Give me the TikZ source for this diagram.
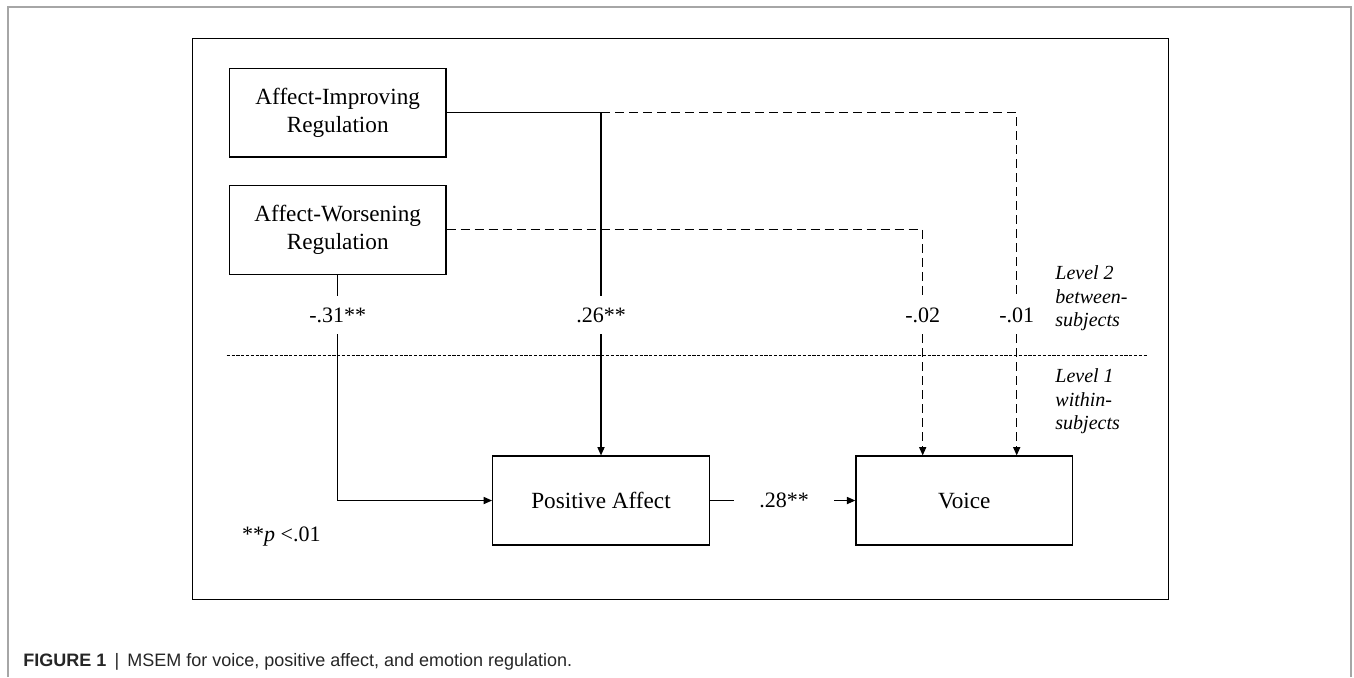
\documentclass[tikz,border=0pt]{standalone}
\usepackage{fontspec}
\setmainfont{Liberation Serif}
\setsansfont{Liberation Sans}
\usetikzlibrary{arrows.meta}
\tikzstyle{block}=[draw,line width=0.7pt,minimum width=108.3pt,minimum height=44.4pt,inner sep=0pt,align=center,font=\fontsize{11.6}{13.85}\selectfont]
\tikzstyle{coef}=[inner sep=0pt,minimum height=18.6pt,minimum width=50pt,font=\fontsize{11}{13}\selectfont]
\tikzstyle{edge} = [draw,line width=0.55pt,-]
\tikzstyle{arrow} = [edge,-{Triangle[length=4.2pt,width=3.6pt]}]
\tikzstyle{dashedge} = [edge,dash pattern=on 4.5pt off 2.5pt]
\tikzstyle{dasharrow} = [dashedge,-{Triangle[length=4.2pt,width=3.6pt]}]
\tikzstyle{level}=[inner sep=0pt,anchor=west,align=left,font=\fontsize{10}{11.75}\selectfont\itshape]

\begin{document}
\begin{tikzpicture}[x=0.5pt,y=-0.5pt]
    \useasboundingbox (0,0) rectangle (1354,677);
    % Frames and the level line
    \draw[black!35,line width=0.8pt] (8,677) -- (8,7) -- (1351,7) -- (1351,677);
    \draw[line width=0.7pt] (192.7,38.3) rectangle (1168.4,599.3);
    \draw[line width=0.4pt,dash pattern=on 1.6pt off 0.8pt] (226.7,355.7) -- (1146.5,355.7);
    % First we draw the boxes
    \foreach \pos/\name/\text in {{(337.7,112.7)/air/Affect-Improving\\Regulation}, {(337.7,229.8)/awr/Affect-Worsening\\Regulation}, {(601,500.5)/pa/Positive Affect}, {(964.3,500.5)/voice/Voice}}
        \node[block] (\name) at \pos {\text};
    % Then the path coefficients
    \foreach \pos/\name/\val in {{(337.7,315.3)/l31/-.31**}, {(601,315.3)/l26/.26**}, {(922.7,315.3)/l02/-.02}, {(1016.7,315.3)/l01/-.01}, {(784,500.5)/l28/.28**}}
        \node[coef] (\name) at \pos {\val};
    % Connect boxes through the coefficients
    \path[edge] (air.east) -| (l26.north);
    \path[dashedge] (l26.north |- air.east) -| (l01.north);
    \path[edge] (awr.south) -- (l31.north);
    \path[dashedge] (awr.east) -| (l02.north);
    \path[arrow] (l31.south) |- (pa.west);
    \path[arrow] (l26.south) -- (pa.north);
    \path[dasharrow] (l02.south) -- (l02.south |- voice.north);
    \path[dasharrow] (l01.south) -- (l01.south |- voice.north);
    \path[edge] (pa.east) -- (l28.west);
    \path[arrow] (l28.east) -- (voice.west);
    % Level labels, note and caption
    \node[level] (lev2) at (1055,298.5) {Level 2\\between-\\subjects};
    \node[level] (lev1) at (1055,401.5) {Level 1\\within-\\subjects};
    \node[anchor=west,inner sep=0pt,font=\fontsize{11}{13}\selectfont] (note) at (241.7,537) {**\textit{p} <.01};
    \node[anchor=west,inner sep=0pt,text=black!85,font=\sffamily\fontsize{9}{10}\selectfont] (caption) at (23,661.7) {\textbf{FIGURE 1}\hspace{0.45em}|\hspace{0.45em}MSEM for voice, positive affect, and emotion regulation.};
\end{tikzpicture}
\end{document}
